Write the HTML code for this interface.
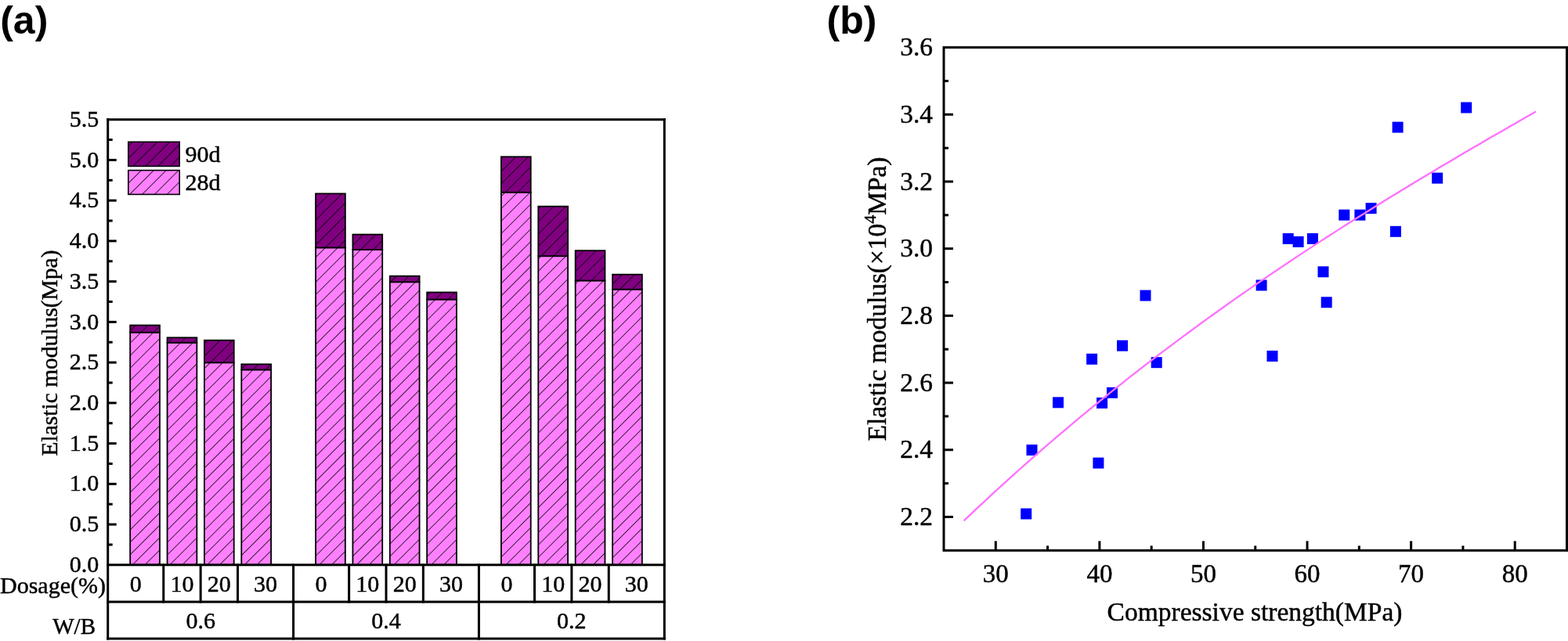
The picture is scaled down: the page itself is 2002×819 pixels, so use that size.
<!DOCTYPE html>
<html><head><meta charset="utf-8"><title>Elastic modulus figure</title>
<style>html,body{margin:0;padding:0;background:#fff;overflow:hidden}svg{display:block}.s{stroke:#000;stroke-width:.45px}</style>
</head><body>
<svg width="2002" height="819" viewBox="0 0 2002 819">
<defs>
<pattern id="h" patternUnits="userSpaceOnUse" width="11.24" height="11.24" patternTransform="rotate(45)"><line x1="0" y1="-1" x2="0" y2="13" stroke="#000" stroke-width="1.5"/></pattern>
</defs>
<rect width="2002" height="819" fill="#fff"/>
<text x="0.2" y="43.1" font-family="'Liberation Sans',Arial,sans-serif" font-weight="bold" font-size="50">(a)</text>
<text x="1055.6" y="43" font-family="'Liberation Sans',Arial,sans-serif" font-weight="bold" font-size="50">(b)</text>
<rect x="166.17" y="424.70" width="37.8" height="297.10" fill="#ff80ff"/>
<rect x="166.17" y="424.70" width="37.8" height="297.10" fill="url(#h)" stroke="#000" stroke-width="1.8"/>
<rect x="166.17" y="415.55" width="37.8" height="9.15" fill="#800080"/>
<rect x="166.17" y="415.55" width="37.8" height="9.15" fill="url(#h)" stroke="#000" stroke-width="1.8"/>
<rect x="213.55" y="437.80" width="37.8" height="284.00" fill="#ff80ff"/>
<rect x="213.55" y="437.80" width="37.8" height="284.00" fill="url(#h)" stroke="#000" stroke-width="1.8"/>
<rect x="213.55" y="431.35" width="37.8" height="6.45" fill="#800080"/>
<rect x="213.55" y="431.35" width="37.8" height="6.45" fill="url(#h)" stroke="#000" stroke-width="1.8"/>
<rect x="260.92" y="463.30" width="37.8" height="258.50" fill="#ff80ff"/>
<rect x="260.92" y="463.30" width="37.8" height="258.50" fill="url(#h)" stroke="#000" stroke-width="1.8"/>
<rect x="260.92" y="434.75" width="37.8" height="28.55" fill="#800080"/>
<rect x="260.92" y="434.75" width="37.8" height="28.55" fill="url(#h)" stroke="#000" stroke-width="1.8"/>
<rect x="308.29" y="472.40" width="37.8" height="249.40" fill="#ff80ff"/>
<rect x="308.29" y="472.40" width="37.8" height="249.40" fill="url(#h)" stroke="#000" stroke-width="1.8"/>
<rect x="308.29" y="465.35" width="37.8" height="7.05" fill="#800080"/>
<rect x="308.29" y="465.35" width="37.8" height="7.05" fill="url(#h)" stroke="#000" stroke-width="1.8"/>
<rect x="403.04" y="316.40" width="37.8" height="405.40" fill="#ff80ff"/>
<rect x="403.04" y="316.40" width="37.8" height="405.40" fill="url(#h)" stroke="#000" stroke-width="1.8"/>
<rect x="403.04" y="247.40" width="37.8" height="69.00" fill="#800080"/>
<rect x="403.04" y="247.40" width="37.8" height="69.00" fill="url(#h)" stroke="#000" stroke-width="1.8"/>
<rect x="450.41" y="319.00" width="37.8" height="402.80" fill="#ff80ff"/>
<rect x="450.41" y="319.00" width="37.8" height="402.80" fill="url(#h)" stroke="#000" stroke-width="1.8"/>
<rect x="450.41" y="299.60" width="37.8" height="19.40" fill="#800080"/>
<rect x="450.41" y="299.60" width="37.8" height="19.40" fill="url(#h)" stroke="#000" stroke-width="1.8"/>
<rect x="497.79" y="360.30" width="37.8" height="361.50" fill="#ff80ff"/>
<rect x="497.79" y="360.30" width="37.8" height="361.50" fill="url(#h)" stroke="#000" stroke-width="1.8"/>
<rect x="497.79" y="352.70" width="37.8" height="7.60" fill="#800080"/>
<rect x="497.79" y="352.70" width="37.8" height="7.60" fill="url(#h)" stroke="#000" stroke-width="1.8"/>
<rect x="545.16" y="382.60" width="37.8" height="339.20" fill="#ff80ff"/>
<rect x="545.16" y="382.60" width="37.8" height="339.20" fill="url(#h)" stroke="#000" stroke-width="1.8"/>
<rect x="545.16" y="373.50" width="37.8" height="9.10" fill="#800080"/>
<rect x="545.16" y="373.50" width="37.8" height="9.10" fill="url(#h)" stroke="#000" stroke-width="1.8"/>
<rect x="639.91" y="245.70" width="37.8" height="476.10" fill="#ff80ff"/>
<rect x="639.91" y="245.70" width="37.8" height="476.10" fill="url(#h)" stroke="#000" stroke-width="1.8"/>
<rect x="639.91" y="200.30" width="37.8" height="45.40" fill="#800080"/>
<rect x="639.91" y="200.30" width="37.8" height="45.40" fill="url(#h)" stroke="#000" stroke-width="1.8"/>
<rect x="687.28" y="327.20" width="37.8" height="394.60" fill="#ff80ff"/>
<rect x="687.28" y="327.20" width="37.8" height="394.60" fill="url(#h)" stroke="#000" stroke-width="1.8"/>
<rect x="687.28" y="263.70" width="37.8" height="63.50" fill="#800080"/>
<rect x="687.28" y="263.70" width="37.8" height="63.50" fill="url(#h)" stroke="#000" stroke-width="1.8"/>
<rect x="734.65" y="358.50" width="37.8" height="363.30" fill="#ff80ff"/>
<rect x="734.65" y="358.50" width="37.8" height="363.30" fill="url(#h)" stroke="#000" stroke-width="1.8"/>
<rect x="734.65" y="320.20" width="37.8" height="38.30" fill="#800080"/>
<rect x="734.65" y="320.20" width="37.8" height="38.30" fill="url(#h)" stroke="#000" stroke-width="1.8"/>
<rect x="782.03" y="369.70" width="37.8" height="352.10" fill="#ff80ff"/>
<rect x="782.03" y="369.70" width="37.8" height="352.10" fill="url(#h)" stroke="#000" stroke-width="1.8"/>
<rect x="782.03" y="350.70" width="37.8" height="19.00" fill="#800080"/>
<rect x="782.03" y="350.70" width="37.8" height="19.00" fill="url(#h)" stroke="#000" stroke-width="1.8"/>
<rect x="163.8" y="181.29999999999998" width="65.4" height="31.10" fill="#800080"/>
<rect x="163.8" y="181.29999999999998" width="65.4" height="31.10" fill="url(#h)" stroke="#000" stroke-width="1.6"/>
<text x="236.5" y="207.2" class="s" font-family="'Liberation Serif','Times New Roman',serif" font-size="30">90d</text>
<rect x="163.8" y="217.6" width="65.4" height="30.80" fill="#ff80ff"/>
<rect x="163.8" y="217.6" width="65.4" height="30.80" fill="url(#h)" stroke="#000" stroke-width="1.6"/>
<text x="236.5" y="243.3" class="s" font-family="'Liberation Serif','Times New Roman',serif" font-size="30">28d</text>
<g stroke="#000" stroke-width="3" fill="none" stroke-linecap="square">
<line x1="137.7" y1="152.7" x2="848.3" y2="152.7"/>
<line x1="137.7" y1="152.7" x2="137.7" y2="816.1"/>
<line x1="848.3" y1="152.7" x2="848.3" y2="816.1"/>
<line x1="137.7" y1="721.8" x2="848.3" y2="721.8"/>
<line x1="137.7" y1="768.9" x2="848.3" y2="768.9"/>
<line x1="137.7" y1="816.1" x2="848.3" y2="816.1"/>
<line x1="374.57" y1="721.8" x2="374.57" y2="816.1"/>
<line x1="611.43" y1="721.8" x2="611.43" y2="816.1"/>
<line x1="208.76" y1="721.8" x2="208.76" y2="768.9"/>
<line x1="256.13" y1="721.8" x2="256.13" y2="768.9"/>
<line x1="303.51" y1="721.8" x2="303.51" y2="768.9"/>
<line x1="445.63" y1="721.8" x2="445.63" y2="768.9"/>
<line x1="493.00" y1="721.8" x2="493.00" y2="768.9"/>
<line x1="540.37" y1="721.8" x2="540.37" y2="768.9"/>
<line x1="682.49" y1="721.8" x2="682.49" y2="768.9"/>
<line x1="729.87" y1="721.8" x2="729.87" y2="768.9"/>
<line x1="777.24" y1="721.8" x2="777.24" y2="768.9"/>
<line x1="137.7" y1="695.93" x2="143.7" y2="695.93" stroke-linecap="butt"/>
<line x1="137.7" y1="670.06" x2="148.7" y2="670.06" stroke-linecap="butt"/>
<line x1="137.7" y1="644.20" x2="143.7" y2="644.20" stroke-linecap="butt"/>
<line x1="137.7" y1="618.33" x2="148.7" y2="618.33" stroke-linecap="butt"/>
<line x1="137.7" y1="592.46" x2="143.7" y2="592.46" stroke-linecap="butt"/>
<line x1="137.7" y1="566.59" x2="148.7" y2="566.59" stroke-linecap="butt"/>
<line x1="137.7" y1="540.72" x2="143.7" y2="540.72" stroke-linecap="butt"/>
<line x1="137.7" y1="514.85" x2="148.7" y2="514.85" stroke-linecap="butt"/>
<line x1="137.7" y1="488.99" x2="143.7" y2="488.99" stroke-linecap="butt"/>
<line x1="137.7" y1="463.12" x2="148.7" y2="463.12" stroke-linecap="butt"/>
<line x1="137.7" y1="437.25" x2="143.7" y2="437.25" stroke-linecap="butt"/>
<line x1="137.7" y1="411.38" x2="148.7" y2="411.38" stroke-linecap="butt"/>
<line x1="137.7" y1="385.51" x2="143.7" y2="385.51" stroke-linecap="butt"/>
<line x1="137.7" y1="359.65" x2="148.7" y2="359.65" stroke-linecap="butt"/>
<line x1="137.7" y1="333.78" x2="143.7" y2="333.78" stroke-linecap="butt"/>
<line x1="137.7" y1="307.91" x2="148.7" y2="307.91" stroke-linecap="butt"/>
<line x1="137.7" y1="282.04" x2="143.7" y2="282.04" stroke-linecap="butt"/>
<line x1="137.7" y1="256.17" x2="148.7" y2="256.17" stroke-linecap="butt"/>
<line x1="137.7" y1="230.30" x2="143.7" y2="230.30" stroke-linecap="butt"/>
<line x1="137.7" y1="204.44" x2="148.7" y2="204.44" stroke-linecap="butt"/>
<line x1="137.7" y1="178.57" x2="143.7" y2="178.57" stroke-linecap="butt"/>
</g>
<g class="s" font-family="'Liberation Serif','Times New Roman',serif" font-size="30" text-anchor="end">
<text x="126.3" y="730.9">0.0</text>
<text x="126.3" y="679.2">0.5</text>
<text x="126.3" y="627.4">1.0</text>
<text x="126.3" y="575.7">1.5</text>
<text x="126.3" y="524.0">2.0</text>
<text x="126.3" y="472.2">2.5</text>
<text x="126.3" y="420.5">3.0</text>
<text x="126.3" y="368.7">3.5</text>
<text x="126.3" y="317.0">4.0</text>
<text x="126.3" y="265.3">4.5</text>
<text x="126.3" y="213.5">5.0</text>
<text x="126.3" y="161.8">5.5</text>
</g>
<text transform="translate(73,451) rotate(-90)" class="s" font-family="'Liberation Serif','Times New Roman',serif" font-size="29.5" text-anchor="middle">Elastic modulus(Mpa)</text>
<g class="s" font-family="'Liberation Serif','Times New Roman',serif" font-size="30" text-anchor="middle">
<text x="173.23" y="756">0</text>
<text x="232.45" y="756">10</text>
<text x="279.82" y="756">20</text>
<text x="339.04" y="756">30</text>
<text x="256.13" y="803">0.6</text>
<text x="410.10" y="756">0</text>
<text x="469.31" y="756">10</text>
<text x="516.69" y="756">20</text>
<text x="575.90" y="756">30</text>
<text x="493.00" y="803">0.4</text>
<text x="646.96" y="756">0</text>
<text x="706.18" y="756">10</text>
<text x="753.55" y="756">20</text>
<text x="812.77" y="756">30</text>
<text x="729.87" y="803">0.2</text>
</g>
<text x="0" y="758.3" class="s" font-family="'Liberation Serif','Times New Roman',serif" font-size="30">Dosage(%)</text>
<text x="122" y="810" class="s" font-family="'Liberation Serif','Times New Roman',serif" font-size="29" text-anchor="end">W/B</text>
<g stroke="#000" stroke-width="3" fill="none">
<rect x="1205.0" y="60.6" width="795.50" height="642.70"/>
<line x1="1205.0" y1="660.45" x2="1217.0" y2="660.45"/>
<line x1="1205.0" y1="617.61" x2="1211.0" y2="617.61"/>
<line x1="1205.0" y1="574.76" x2="1217.0" y2="574.76"/>
<line x1="1205.0" y1="531.91" x2="1211.0" y2="531.91"/>
<line x1="1205.0" y1="489.07" x2="1217.0" y2="489.07"/>
<line x1="1205.0" y1="446.22" x2="1211.0" y2="446.22"/>
<line x1="1205.0" y1="403.37" x2="1217.0" y2="403.37"/>
<line x1="1205.0" y1="360.53" x2="1211.0" y2="360.53"/>
<line x1="1205.0" y1="317.68" x2="1217.0" y2="317.68"/>
<line x1="1205.0" y1="274.83" x2="1211.0" y2="274.83"/>
<line x1="1205.0" y1="231.99" x2="1217.0" y2="231.99"/>
<line x1="1205.0" y1="189.14" x2="1211.0" y2="189.14"/>
<line x1="1205.0" y1="146.29" x2="1217.0" y2="146.29"/>
<line x1="1205.0" y1="103.45" x2="1211.0" y2="103.45"/>
<line x1="1271.29" y1="703.3" x2="1271.29" y2="691.3"/>
<line x1="1337.58" y1="703.3" x2="1337.58" y2="697.3"/>
<line x1="1403.88" y1="703.3" x2="1403.88" y2="691.3"/>
<line x1="1470.17" y1="703.3" x2="1470.17" y2="697.3"/>
<line x1="1536.46" y1="703.3" x2="1536.46" y2="691.3"/>
<line x1="1602.75" y1="703.3" x2="1602.75" y2="697.3"/>
<line x1="1669.04" y1="703.3" x2="1669.04" y2="691.3"/>
<line x1="1735.33" y1="703.3" x2="1735.33" y2="697.3"/>
<line x1="1801.62" y1="703.3" x2="1801.62" y2="691.3"/>
<line x1="1867.92" y1="703.3" x2="1867.92" y2="697.3"/>
<line x1="1934.21" y1="703.3" x2="1934.21" y2="691.3"/>
</g>
<g class="s" font-family="'Liberation Serif','Times New Roman',serif" font-size="33.4" text-anchor="end">
<text x="1191" y="671.1">2.2</text>
<text x="1191" y="585.4">2.4</text>
<text x="1191" y="499.7">2.6</text>
<text x="1191" y="414.0">2.8</text>
<text x="1191" y="328.3">3.0</text>
<text x="1191" y="242.6">3.2</text>
<text x="1191" y="156.9">3.4</text>
<text x="1191" y="71.2">3.6</text>
</g>
<g class="s" font-family="'Liberation Serif','Times New Roman',serif" font-size="33" text-anchor="middle">
<text x="1271.29" y="744">30</text>
<text x="1403.88" y="744">40</text>
<text x="1536.46" y="744">50</text>
<text x="1669.04" y="744">60</text>
<text x="1801.62" y="744">70</text>
<text x="1934.21" y="744">80</text>
</g>
<text x="1602" y="793" class="s" font-family="'Liberation Serif','Times New Roman',serif" font-size="33.5" text-anchor="middle">Compressive strength(MPa)</text>
<text transform="translate(1131.3,382) rotate(-90)" class="s" font-family="'Liberation Serif','Times New Roman',serif" font-size="33.4" text-anchor="middle">Elastic modulus(×10<tspan font-size="22" dy="-13">4</tspan><tspan dy="13">MPa)</tspan></text>
<rect x="1303.2" y="649.5" width="14" height="14" fill="#0000ff"/>
<rect x="1310.5" y="568.0" width="14" height="14" fill="#0000ff"/>
<rect x="1344.0" y="507.3" width="14" height="14" fill="#0000ff"/>
<rect x="1395.4" y="584.6" width="14" height="14" fill="#0000ff"/>
<rect x="1400.1" y="507.9" width="14" height="14" fill="#0000ff"/>
<rect x="1413.0" y="494.8" width="14" height="14" fill="#0000ff"/>
<rect x="1387.1" y="451.8" width="14" height="14" fill="#0000ff"/>
<rect x="1426.0" y="434.7" width="14" height="14" fill="#0000ff"/>
<rect x="1455.5" y="370.6" width="14" height="14" fill="#0000ff"/>
<rect x="1469.7" y="456.2" width="14" height="14" fill="#0000ff"/>
<rect x="1603.6" y="357.5" width="14" height="14" fill="#0000ff"/>
<rect x="1617.5" y="448.0" width="14" height="14" fill="#0000ff"/>
<rect x="1637.7" y="298.0" width="14" height="14" fill="#0000ff"/>
<rect x="1650.6" y="301.9" width="14" height="14" fill="#0000ff"/>
<rect x="1668.9" y="298.0" width="14" height="14" fill="#0000ff"/>
<rect x="1682.5" y="340.3" width="14" height="14" fill="#0000ff"/>
<rect x="1686.7" y="379.3" width="14" height="14" fill="#0000ff"/>
<rect x="1709.3" y="267.7" width="14" height="14" fill="#0000ff"/>
<rect x="1729.4" y="267.7" width="14" height="14" fill="#0000ff"/>
<rect x="1743.6" y="259.2" width="14" height="14" fill="#0000ff"/>
<rect x="1774.9" y="288.8" width="14" height="14" fill="#0000ff"/>
<rect x="1777.6" y="155.6" width="14" height="14" fill="#0000ff"/>
<rect x="1828.2" y="220.6" width="14" height="14" fill="#0000ff"/>
<rect x="1865.2" y="130.5" width="14" height="14" fill="#0000ff"/>
<polyline fill="none" stroke="#ff70ff" stroke-width="2.3" stroke-linejoin="round" points="1230.6,665.4 1238.6,657.8 1246.6,650.2 1254.6,642.8 1262.6,635.3 1270.6,627.9 1278.6,620.6 1286.6,613.4 1294.6,606.2 1302.6,599.0 1310.6,591.9 1318.6,584.8 1326.6,577.8 1334.6,570.9 1342.6,564.0 1350.6,557.1 1358.6,550.3 1366.6,543.6 1374.6,536.9 1382.6,530.2 1390.6,523.6 1398.6,517.1 1406.6,510.5 1414.6,504.1 1422.6,497.7 1430.6,491.3 1438.6,484.9 1446.6,478.7 1454.6,472.4 1462.6,466.2 1470.6,460.1 1478.6,453.9 1486.6,447.9 1494.6,441.8 1502.6,435.8 1510.6,429.9 1518.6,424.0 1526.6,418.1 1534.6,412.2 1542.6,406.4 1550.6,400.7 1558.6,395.0 1566.6,389.3 1574.6,383.6 1582.6,378.0 1590.6,372.4 1598.6,366.9 1606.6,361.3 1614.6,355.9 1622.6,350.4 1630.6,345.0 1638.6,339.6 1646.6,334.2 1654.6,328.9 1662.6,323.6 1670.6,318.4 1678.6,313.1 1686.6,307.9 1694.6,302.7 1702.6,297.6 1710.6,292.4 1718.6,287.3 1726.6,282.3 1734.6,277.2 1742.6,272.2 1750.6,267.2 1758.6,262.2 1766.6,257.3 1774.6,252.3 1782.6,247.4 1790.6,242.5 1798.6,237.7 1806.6,232.8 1814.6,228.0 1822.6,223.2 1830.6,218.4 1838.6,213.6 1846.6,208.9 1854.6,204.2 1862.6,199.4 1870.6,194.7 1878.6,190.1 1886.6,185.4 1894.6,180.7 1902.6,176.1 1910.6,171.5 1918.6,166.9 1926.6,162.3 1934.6,157.7 1942.6,153.1 1950.6,148.5 1958.6,144.0 1961.0,142.6"/>
</svg>
</body></html>
